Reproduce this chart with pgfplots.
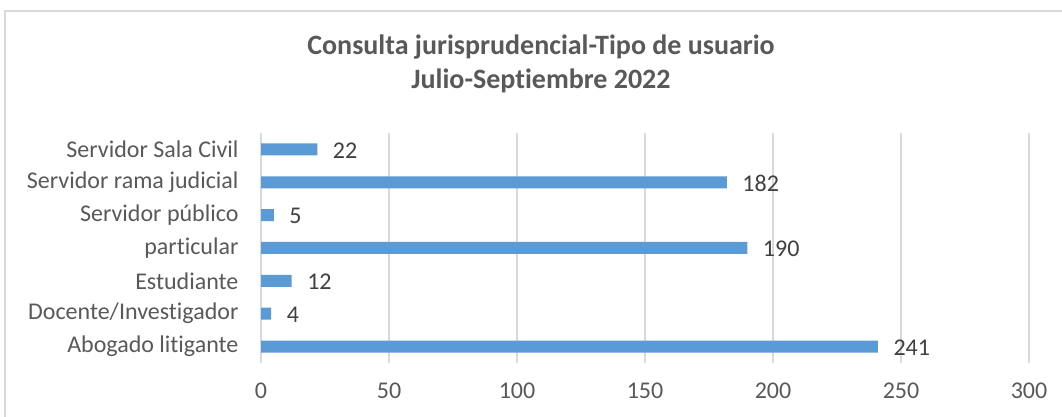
\documentclass[border=0pt]{standalone}
\usepackage{fontspec}
\setmainfont[Ligatures={NoCommon}]{Carlito}
\usepackage{pgfplots}
\pgfplotsset{compat=1.18}
\definecolor{barblue}{HTML}{5B9BD5}
\definecolor{txt}{HTML}{595959}
\definecolor{dlab}{HTML}{404040}
\definecolor{gridc}{HTML}{D9D9D9}
\begin{document}
\begin{tikzpicture}[x=1pt,y=1pt]
\useasboundingbox (0,0) rectangle (1062,417);
\fill[white] (0,0) rectangle (1062,417);
\draw[gridc, line width=1.5pt] (5,-10) rectangle (1080,406);
\node[font=\fontsize{28}{34}\selectfont\bfseries, text=txt, align=center] at (541,353) {Consulta jurisprudencial-Tipo de usuario\\Julio-Septiembre 2022};
\begin{axis}[
  at={(261pt,54pt)}, anchor=south west,
  scale only axis, width=768pt, height=230pt,
  xmin=0, xmax=300, ymin=-0.5, ymax=6.5,
  xbar, bar width=12pt,
  axis line style={draw=none},
  xmajorgrids, grid style={gridc, line width=1.5pt},
  xtick={0,50,...,300},
  ytick={0,1,2,3,4,5,6},
  yticklabels={Abogado litigante,Docente/Investigador,Estudiante,particular,Servidor público,Servidor rama judicial,Servidor Sala Civil},
  major tick length=0pt,
  ticklabel style={font=\fontsize{24}{29}\selectfont, text=txt},
  /pgf/number format/assume math mode=true,
  yticklabel style={xshift=-19pt},
  xticklabel style={yshift=-16pt},
  nodes near coords,
  nodes near coords style={font=\fontsize{24}{29}\selectfont, text=dlab, xshift=12pt, yshift=-1pt},
]
\addplot[fill=barblue, draw=none] coordinates {(241,0) (4,1) (12,2) (190,3) (5,4) (182,5) (22,6)};
\end{axis}
\end{tikzpicture}
\end{document}
